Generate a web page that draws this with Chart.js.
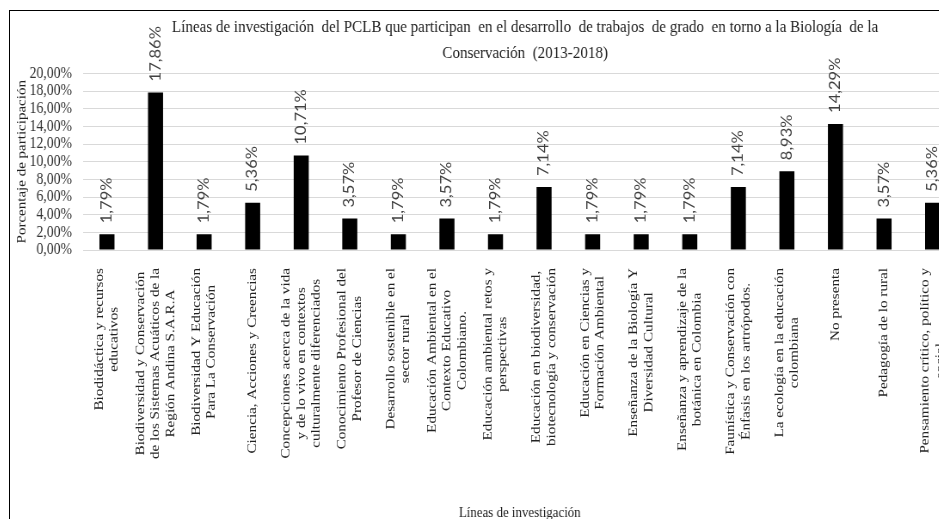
<!DOCTYPE html>
<html>
<head>
<meta charset="utf-8">
<script src="https://cdn.jsdelivr.net/npm/chart.js@4.4.1/dist/chart.umd.min.js"></script>
<style>
  html, body { margin: 0; padding: 0; background: #fff; overflow: hidden; width: 939px; height: 519px; }
  #frame { position: absolute; left: 9px; top: 10px; width: 1200px; height: 600px; border: 1px solid #000; }
  /* the original picture is squeezed sideways, so the chart is drawn wide and squeezed too */
  #wrap { position: absolute; left: 10px; top: 11px; width: 1198px; height: 520px; transform: scaleX(0.86); transform-origin: 0 0; }
</style>
</head>
<body>
<div id="frame"></div>
<div id="wrap"><canvas id="chart"></canvas></div>
<script>
const serif = '"Liberation Serif", "Times New Roman", serif';

const titleLines = [
  'Líneas de investigación  del PCLB que participan  en el desarrollo  de trabajos  de grado  en torno a la Biología  de la',
  'Conservación  (2013-2018)'
];
const yTitle = 'Porcentaje de participación';
const xTitle = 'Líneas de investigación';

const categories = [
  ['Biodidáctica y recursos', 'educativos'],
  ['Biodiversidad y Conservación', 'de los Sistemas Acuáticos de la', 'Región Andina S.A.R.A'],
  ['Biodiversidad Y Educación', 'Para La Conservación'],
  ['Ciencia, Acciones y Creencias'],
  ['Concepciones acerca de la vida', 'y de lo vivo en contextos', 'culturalmente diferenciados'],
  ['Conocimiento Profesional del', 'Profesor de Ciencias'],
  ['Desarrollo sostenible en el', 'sector rural'],
  ['Educación Ambiental en el', 'Contexto Educativo', 'Colombiano.'],
  ['Educación ambiental retos y', 'perspectivas'],
  ['Educación en biodiversidad,', 'biotecnología y conservación'],
  ['Educación en Ciencias y', 'Formación Ambiental'],
  ['Enseñanza de la Biología Y', 'Diversidad Cultural'],
  ['Enseñanza y aprendizaje de la', 'botánica en Colombia'],
  ['Faunística y Conservación con', 'Énfasis en los artrópodos.'],
  ['La ecología en la educación', 'colombiana'],
  ['No presenta'],
  ['Pedagogía de lo rural'],
  ['Pensamiento crítico, político y', 'social']
];

const values = [1.79, 17.86, 1.79, 5.36, 10.71, 3.57, 1.79, 3.57, 1.79, 7.14, 1.79, 1.79, 1.79, 7.14, 8.93, 14.29, 3.57, 5.36];

const yTicks = [0, 2, 4, 6, 8, 10, 12, 14, 16, 18, 20];

function fmt(v) {
  return v.toFixed(2).replace('.', ',') + '%';
}

// value labels above bars + centred multi-line category labels, both rotated
const rotatedLabels = {
  id: 'rotatedLabels',
  afterDatasetsDraw(chart) {
    const ctx = chart.ctx;
    const meta = chart.getDatasetMeta(0);
    const xs = chart.scales.x;
    ctx.save();

    ctx.font = '16.5px Lato';
    ctx.fillStyle = '#404040';
    ctx.textAlign = 'left';
    ctx.textBaseline = 'middle';
    meta.data.forEach((bar, i) => {
      ctx.save();
      ctx.translate(bar.x, bar.y - 11);
      ctx.rotate(-Math.PI / 2);
      ctx.fillText(fmt(values[i]), 0, 0);
      ctx.restore();
    });

    ctx.font = '15.2px "Liberation Serif"';
    ctx.fillStyle = '#222';
    ctx.textAlign = 'center';
    const lh = 17.5;
    categories.forEach((lines, i) => {
      const x = xs.getPixelForValue(i);
      const w = Math.max(...lines.map(l => ctx.measureText(l).width));
      ctx.save();
      ctx.translate(x, xs.top + 18);
      ctx.rotate(-Math.PI / 2);
      lines.forEach((l, j) => {
        ctx.fillText(l, -w / 2, (j - (lines.length - 1) / 2) * lh);
      });
      ctx.restore();
    });

    ctx.restore();
  }
};

new Chart('chart', {
  type: 'bar',
  data: {
    labels: categories,
    datasets: [{
      data: values,
      backgroundColor: '#000',
      barPercentage: 0.31,
      categoryPercentage: 1,
      yAxisID: 'y'
    }]
  },
  options: {
    responsive: true,
    maintainAspectRatio: false,
    animation: false,
    layout: { padding: 0 },
    plugins: {
      legend: { display: false },
      tooltip: { enabled: false },
      title: {
        display: true,
        text: titleLines,
        color: '#222',
        font: { family: serif, size: 17.5, weight: 'normal', lineHeight: 1.5 },
        padding: { top: 3, bottom: 7 }
      }
    },
    scales: {
      x: {
        grid: { display: false },
        border: { display: false },
        ticks: { display: false },
        title: {
          display: true,
          text: xTitle,
          color: '#222',
          font: { family: serif, size: 15, lineHeight: 1.2 },
          padding: { top: 4, bottom: 9 }
        },
        afterFit: s => { s.height = 281; }
      },
      y: {
        position: 'left',
        min: 0,
        max: 20,
        afterBuildTicks: s => { s.ticks = yTicks.map(v => ({ value: v })); },
        grid: { color: '#d9d9d9', lineWidth: 1, drawTicks: false },
        border: { display: false },
        ticks: {
          autoSkip: false,
          padding: 12.4,
          color: '#333',
          font: { family: serif, size: 16 },
          callback: v => fmt(v)
        },
        title: {
          display: true,
          text: yTitle,
          color: '#222',
          font: { family: serif, size: 15, lineHeight: 1.2 },
          padding: { top: 5, bottom: 0 }
        },
        afterFit: s => { s.width = 84.5; }
      },
      // empty right-hand axis: keeps the plot short of the canvas edge so the title stays centred on the full chart
      yr: {
        position: 'right',
        min: 0,
        max: 20,
        grid: { drawOnChartArea: false, drawTicks: false },
        border: { display: false },
        ticks: { display: false },
        afterFit: s => { s.width = 97; }
      }
    }
  },
  plugins: [rotatedLabels]
});
</script>
</body>
</html>
